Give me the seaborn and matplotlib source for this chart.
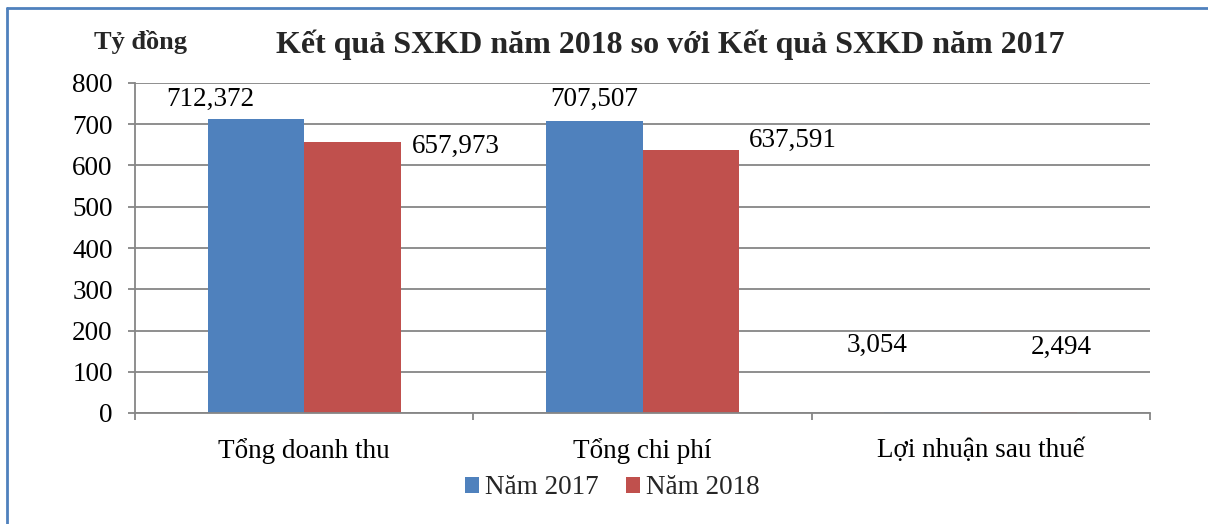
import pandas as pd
import numpy as np
import matplotlib.pyplot as plt
import seaborn as sns
from matplotlib.lines import Line2D
from matplotlib.patches import Patch

# ---------------------------
# Data
# ---------------------------
categories = ["Tổng doanh thu", "Tổng chi phí", "Lợi nhuận sau thuế"]
series_names = ["Năm 2017", "Năm 2018"]
values_2017 = [712.372, 707.507, 3.054]
values_2018 = [657.973, 637.591, 2.494]
label_texts_2017 = ["712,372", "707,507", "3,054"]
label_texts_2018 = ["657,973", "637,591", "2,494"]
y_ticks = [0, 100, 200, 300, 400, 500, 600, 700, 800]

df = pd.DataFrame({
    "cat": categories * 2,
    "series": [series_names[0]] * 3 + [series_names[1]] * 3,
    "value": values_2017 + values_2018,
})

# label offsets in pixels from bar top-center (Excel placed them by hand)
offsets_2017 = [(-46, 20), (0, 22), (-56, 66)]
offsets_2018 = [(103, -5), (102, 10), (32, 65)]

colors = ["#4F81BD", "#C0504D"]
grid_col = "#868686"
fs = 19.5

sns.set_theme(style="white")
plt.rcParams['font.family'] = ['Liberation Serif', 'DejaVu Serif']

fig = plt.figure(figsize=(12.08, 5.24), dpi=100)
ax = fig.add_axes([135 / 1208, 1 - 413 / 524, (1150 - 135) / 1208, 330 / 524])

sns.barplot(data=df, x="cat", y="value", hue="series", palette=colors,
            width=0.57, order=categories, hue_order=series_names,
            ax=ax, legend=False, saturation=1, edgecolor="none")

ax.set_ylim(0, 800)
ax.set_xlim(-0.5, 2.5)
ax.set_yticks(y_ticks)
ax.yaxis.grid(True, color=grid_col, linewidth=1.3)
ax.set_axisbelow(True)
ax.set_xlabel("")
ax.set_ylabel("")

for s in ["top", "right"]:
    ax.spines[s].set_visible(False)
for s in ["left", "bottom"]:
    ax.spines[s].set_color(grid_col)
    ax.spines[s].set_linewidth(1.3)

ax.tick_params(axis="y", which="major", left=True, length=5, width=1.3,
               color=grid_col, pad=11, labelsize=fs, labelcolor="black")
ax.tick_params(axis="x", which="major", length=0, pad=18, labelsize=fs,
               labelcolor="black")
ax.set_xticks([-0.5, 0.5, 1.5, 2.5], minor=True)
ax.tick_params(axis="x", which="minor", bottom=True, length=5, width=1.3,
               color=grid_col)

# data labels
for cont, texts, offs in zip(ax.containers, [label_texts_2017, label_texts_2018],
                             [offsets_2017, offsets_2018]):
    for bar, t, (dx, dy) in zip(cont, texts, offs):
        ax.annotate(t, (bar.get_x() + bar.get_width() / 2, bar.get_height()),
                    xytext=(dx * 0.72, dy * 0.72), textcoords="offset points",
                    ha="center", va="center", fontsize=fs, color="black",
                    annotation_clip=False)

fig.text(670 / 1208, 1 - 45 / 524,
         "Kết quả SXKD năm 2018 so với Kết quả SXKD năm 2017",
         ha="center", va="center", fontsize=23, fontweight="bold")
fig.text(141 / 1208, 1 - 42 / 524, "Tỷ đồng", ha="center", va="center",
         fontsize=19, fontweight="bold")

handles = [Patch(facecolor=c, edgecolor="none") for c in colors]
fig.legend(handles, series_names, loc="center", bbox_to_anchor=(612 / 1208, 1 - 488 / 524),
           ncol=2, frameon=False, fontsize=fs, handlelength=0.55, handleheight=0.55,
           handletextpad=0.2, columnspacing=1.0)

# blue frame on left and top
fig.add_artist(Line2D([7 / 1208, 7 / 1208], [0, 1 - 8 / 524], color="#4F81BD", lw=2,
                      transform=fig.transFigure))
fig.add_artist(Line2D([7 / 1208, 1], [1 - 8 / 524, 1 - 8 / 524], color="#4F81BD", lw=2,
                      transform=fig.transFigure))

fig.savefig("out.png", dpi=100)
